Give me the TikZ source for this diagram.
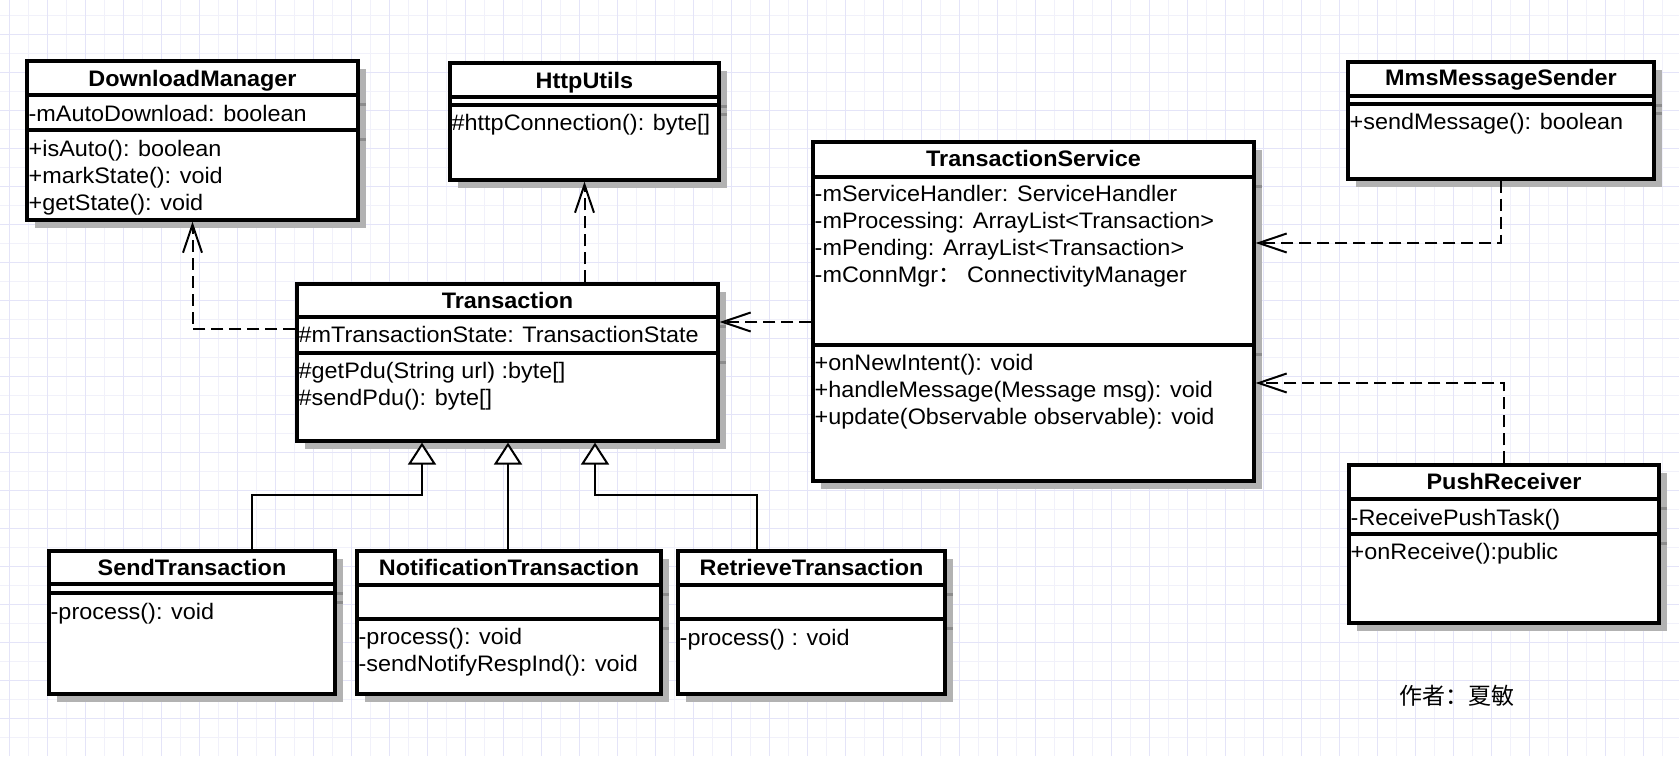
\documentclass[tikz,border=0pt]{standalone}
\usepackage{fontspec}
\setmainfont{Liberation Sans}[FakeStretch=1.045]
\newfontfamily\cjk{Noto Sans CJK SC}
\usetikzlibrary{arrows.meta,shadows}
\definecolor{gridmajor}{RGB}{228,228,248}
\definecolor{gridminor}{RGB}{241,241,250}
\tikzset{
  cls/.style={draw, line width=3.2pt, fill=white, inner sep=0pt,
    drop shadow={shadow xshift=8pt, shadow yshift=-8pt, fill=black!30, opacity=1}},
  compline/.style={line width=3.2pt},
  shadowsep/.style={draw=black!45, line width=3pt},
  clsname/.style={anchor=base, font=\fontsize{22.4}{27}\selectfont\bfseries},
  member/.style={anchor=north west, inner sep=0pt, align=left,
    font=\fontsize{22.4}{27}\selectfont, execute at begin node=\strut},
  dep/.style={line width=2pt, dash pattern=on 12pt off 6pt,
    -{Straight Barb[length=28pt,width=19pt]}},
  inh/.style={line width=2pt, -{Triangle[length=22pt,width=28pt,fill=white]}},
}
\begin{document}
\begin{tikzpicture}[x=1pt,y=-1pt]
  \useasboundingbox (0,0) rectangle (1679,756);
  %grid
  \fill[white] (0,0) rectangle (1679,756);
  \foreach \gx in {9.7,28.7,...,1679} \draw[gridminor, line width=1pt] (\gx,0) -- (\gx,756);
  \foreach \gy in {15.3,34.3,...,756} \draw[gridminor, line width=1pt] (0,\gy) -- (1679,\gy);
  \foreach \gx in {9.7,47.7,...,1679} \draw[gridmajor, line width=1.2pt] (\gx,0) -- (\gx,756);
  \foreach \gy in {34.3,72.3,...,756} \draw[gridmajor, line width=1.2pt] (0,\gy) -- (1679,\gy);

  %DownloadManager
  \node[cls, minimum width=331pt, minimum height=159pt] (dm) at (192.5,140.5) {};
  \draw[shadowsep] (360,104) -- ++(6,0) (360,139) -- ++(6,0);
  \draw[compline] (27,95) -- (358,95) (27,130) -- (358,130);
  \node[clsname] (dm-name) at (192.5,86.5) {DownloadManager};
  \node[member] (dm-attr) at (28.5,102.1) {-mAutoDownload: boolean};
  \node[member] (dm-ops) at (28.5,140.3) {+isAuto(): boolean\\+markState(): void\\+getState(): void};

  %HttpUtils
  \node[cls, minimum width=269pt, minimum height=117pt] (hu) at (584.5,121.5) {};
  \draw[shadowsep] (721,106) -- ++(6,0) (721,114) -- ++(6,0);
  \draw[compline] (450,97) -- (719,97) (450,105) -- (719,105);
  \node[clsname] (hu-name) at (584.5,88.3) {HttpUtils};
  \node[member] (hu-ops) at (451.5,111.1) {\#httpConnection(): byte[]};

  %TransactionService
  \node[cls, minimum width=441pt, minimum height=339pt] (ts) at (1033.5,311.5) {};
  \draw[shadowsep] (1256,186) -- ++(6,0) (1256,354) -- ++(6,0);
  \draw[compline] (813,177) -- (1254,177) (813,345) -- (1254,345);
  \node[clsname] (ts-name) at (1033.5,166.7) {TransactionService};
  \node[member] (ts-attr) at (814.5,184.9) {-mServiceHandler: ServiceHandler\\-mProcessing: ArrayList<Transaction>\\-mPending: ArrayList<Transaction>\\-mConnMgr{\cjk ：} ConnectivityManager};
  \node[member] (ts-ops) at (814.5,353.6) {+onNewIntent(): void\\+handleMessage(Message msg): void\\+update(Observable observable): void};

  %MmsMessageSender
  \node[cls, minimum width=306pt, minimum height=117pt] (mms) at (1501,120.5) {};
  \draw[shadowsep] (1656,105) -- ++(6,0) (1656,113) -- ++(6,0);
  \draw[compline] (1348,96) -- (1654,96) (1348,104) -- (1654,104);
  \node[clsname] (mms-name) at (1501,85.7) {MmsMessageSender};
  \node[member] (mms-ops) at (1349.5,110.5) {+sendMessage(): boolean};

  %Transaction
  \node[cls, minimum width=421pt, minimum height=157pt] (tr) at (507.5,362.5) {};
  \draw[shadowsep] (720,326) -- ++(6,0) (720,362) -- ++(6,0);
  \draw[compline] (297,317) -- (718,317) (297,353) -- (718,353);
  \node[clsname] (tr-name) at (507.5,308.3) {Transaction};
  \node[member] (tr-attr) at (298.5,323.8) {\#mTransactionState: TransactionState};
  \node[member] (tr-ops) at (298.5,361.6) {\#getPdu(String url) :byte[]\\\#sendPdu(): byte[]};

  %PushReceiver
  \node[cls, minimum width=310pt, minimum height=158pt] (pr) at (1504,544) {};
  \draw[shadowsep] (1661,508) -- ++(6,0) (1661,543) -- ++(6,0);
  \draw[compline] (1349,499) -- (1659,499) (1349,534) -- (1659,534);
  \node[clsname] (pr-name) at (1504,489.3) {PushReceiver};
  \node[member] (pr-attr) at (1350.5,506.1) {-ReceivePushTask()};
  \node[member] (pr-ops) at (1350.5,540.2) {+onReceive():public};

  %SendTransaction
  \node[cls, minimum width=286pt, minimum height=143pt] (st) at (192,622.5) {};
  \draw[shadowsep] (337,593) -- ++(6,0) (337,602) -- ++(6,0);
  \draw[compline] (49,584) -- (335,584) (49,593) -- (335,593);
  \node[clsname] (st-name) at (192,575) {SendTransaction};
  \node[member] (st-ops) at (50.5,600) {-process(): void};

  %NotificationTransaction
  \node[cls, minimum width=304pt, minimum height=143pt] (nt) at (509,622.5) {};
  \draw[shadowsep] (663,594) -- ++(6,0) (663,628) -- ++(6,0);
  \draw[compline] (357,585) -- (661,585) (357,619) -- (661,619);
  \node[clsname] (nt-name) at (509,575) {NotificationTransaction};
  \node[member] (nt-ops) at (358.5,628.2) {-process(): void\\-sendNotifyRespInd(): void};

  %RetrieveTransaction
  \node[cls, minimum width=267pt, minimum height=143pt] (rt) at (811.5,622.5) {};
  \draw[shadowsep] (947,594) -- ++(6,0) (947,628) -- ++(6,0);
  \draw[compline] (678,585) -- (945,585) (678,619) -- (945,619);
  \node[clsname] (rt-name) at (811.5,575) {RetrieveTransaction};
  \node[member] (rt-ops) at (679.5,626.1) {-process() : void};

  %dependencies
  \draw[dep] (tr.west |- 0,329) -| (dm.south);
  \draw[dep] (tr.north -| hu.south) -- (hu.south);
  \draw[dep] (ts.west |- 0,322) -- (tr.east |- 0,322);
  \draw[dep] (mms.south) |- (ts.east |- 0,243);
  \draw[dep] (pr.north) |- (ts.east |- 0,383);

  %generalization
  \draw[inh] (st.north -| 252,0) |- (422,495) -- (tr.south -| 422,0);
  \draw[inh] (nt.north -| 508,0) -- (tr.south -| 508,0);
  \draw[inh] (rt.north -| 757,0) |- (595,495) -- (tr.south -| 595,0);

  %author
  \node[anchor=base, font=\fontsize{23}{27}\selectfont\cjk] (author) at (1457,704) {作者：夏敏};
\end{tikzpicture}
\end{document}
